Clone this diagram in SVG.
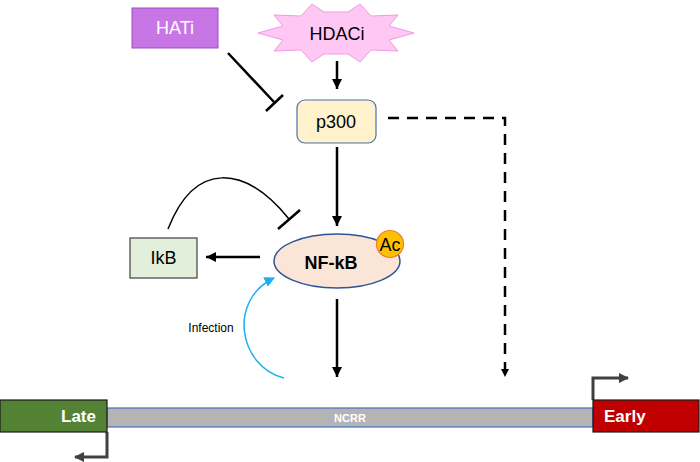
<svg xmlns="http://www.w3.org/2000/svg" width="700" height="462" viewBox="0 0 700 462">
<defs>
<style>
text{font-family:"Liberation Sans",Arial,sans-serif;}
.lbl{font-size:18px;text-anchor:middle;dominant-baseline:central;}
.ln{fill:none;stroke:#000;stroke-width:2.5;}
.prom{fill:none;stroke:#404040;stroke-width:3;}
</style>
<marker id="ah" viewBox="0 0 10 10" refX="10" refY="5" markerWidth="4" markerHeight="4" orient="auto" markerUnits="strokeWidth"><path d="M0,0 L10,5 L0,10 z" fill="#000"/></marker>
<marker id="ahd" viewBox="0 0 10 10" refX="10" refY="5" markerWidth="3.3" markerHeight="3.3" orient="auto" markerUnits="strokeWidth"><path d="M0,0 L10,5 L0,10 z" fill="#000"/></marker>
<marker id="ahb" viewBox="0 0 10 10" refX="9" refY="5" markerWidth="7" markerHeight="7" orient="auto" markerUnits="strokeWidth"><path d="M0,0 L10,5 L0,10 z" fill="#1aaff0"/></marker>
<marker id="ahg" viewBox="0 0 10 10" refX="9" refY="5" markerWidth="3.5" markerHeight="3.5" orient="auto" markerUnits="strokeWidth"><path d="M0,0 L10,5 L0,10 z" fill="#404040"/></marker>
</defs>

<g id="connectors">
<line class="ln" x1="337" y1="61" x2="337" y2="89" marker-end="url(#ah)"/>
<line class="ln" x1="228" y1="53" x2="274" y2="102"/>
<line class="ln" x1="266" y1="111" x2="283" y2="95"/>
<line class="ln" x1="337" y1="147" x2="337" y2="226" marker-end="url(#ah)"/>
<path class="ln" d="M388,118 H505 V377" stroke-width="3" stroke-dasharray="11,8" marker-end="url(#ahd)"/>
<line class="ln" x1="260" y1="257" x2="206" y2="257" marker-end="url(#ah)"/>
<path d="M168,229 C195,160 245,165 289,219" fill="none" stroke="#000" stroke-width="1.5"/>
<line class="ln" x1="278" y1="229" x2="300" y2="210"/>
<path d="M284,378 C238,366 228,300 274,278" fill="none" stroke="#1aaff0" stroke-width="1.5" marker-end="url(#ahb)"/>
<line class="ln" x1="337" y1="299" x2="337" y2="377" marker-end="url(#ah)"/>
<path class="prom" d="M107,432 V457 H75" marker-end="url(#ahg)"/>
<path class="prom" d="M593,400 V378 H628" marker-end="url(#ahg)"/>
</g>

<g id="HATi">
<rect x="132" y="8" width="86" height="40" fill="#c875e6" stroke="#9b4fc0" stroke-width="1"/>
<text class="lbl" x="175" y="28" fill="#fff">HATi</text>
</g>

<g id="HDACi">
<polygon points="414,33 389,40 398,51 371,50 360,62 348,54 336,54 324,54 312,62 301,50 274,51 283,40 258,33 283,26 274,15 301,16 312,4 324,12 348,12 360,4 371,16 398,15 389,26" fill="#ffc8f4" stroke="#f09ae2" stroke-width="1"/>
<text class="lbl" x="337" y="34" fill="#000">HDACi</text>
</g>

<g id="p300">
<rect x="297" y="100" width="79" height="43" rx="8" fill="#fff2cc" stroke="#4f6fa8" stroke-width="1.2"/>
<text class="lbl" x="336" y="122" fill="#000">p300</text>
</g>

<g id="NFkB">
<ellipse cx="337" cy="261" rx="63" ry="27" fill="#fbe5d6" stroke="#2f5597" stroke-width="1.5"/>
<text class="lbl" x="331" y="263" fill="#000" font-weight="bold" font-size="19">NF-kB</text>
<circle cx="390" cy="244" r="13.5" fill="#ffc000" stroke="#ed7d31" stroke-width="1.2"/>
<text class="lbl" x="390" y="245" fill="#000" font-size="14">Ac</text>
</g>

<g id="IkB">
<rect x="130" y="238" width="67" height="40" fill="#e2efda" stroke="#404040" stroke-width="1.2"/>
<text class="lbl" x="163.5" y="258" fill="#000">IkB</text>
</g>

<g id="infection-label">
<text x="211" y="332" font-size="12" text-anchor="middle" fill="#000">Infection</text>
</g>

<g id="NCRR">
<rect x="107" y="408" width="486" height="19" fill="#b4b4b4" stroke="#4472c4" stroke-width="1.2"/>
<text x="350" y="422" font-size="11" font-weight="bold" text-anchor="middle" fill="#fff">NCRR</text>
</g>

<g id="Late">
<rect x="0" y="400" width="107" height="32" fill="#548235" stroke="#1a1a1a" stroke-width="1.2"/>
<text x="96" y="422" font-size="17" font-weight="bold" text-anchor="end" fill="#fff">Late</text>
</g>

<g id="Early">
<rect x="593" y="400" width="106" height="32" fill="#c00000" stroke="#1a1a1a" stroke-width="1.2"/>
<text x="604" y="422" font-size="17" font-weight="bold" fill="#fff">Early</text>
</g>
</svg>
